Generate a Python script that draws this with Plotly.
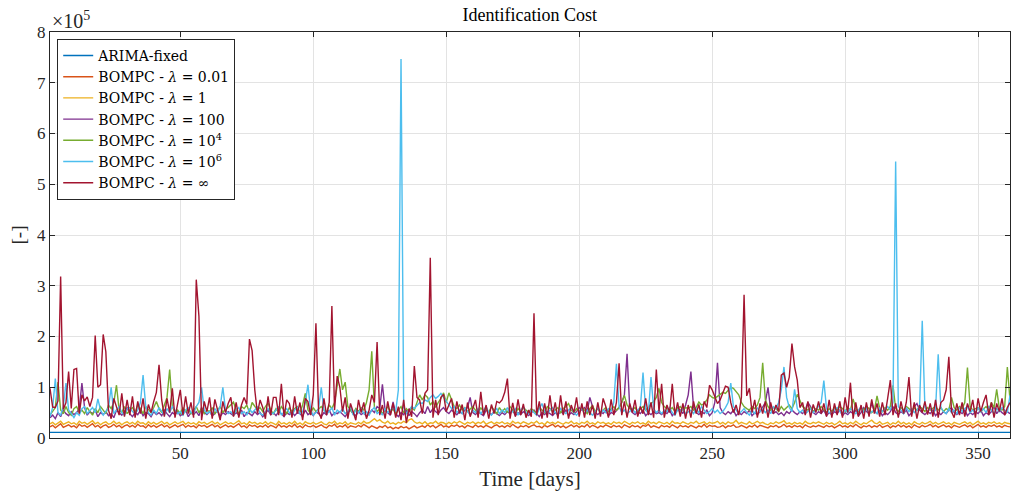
import plotly.graph_objects as go

# ---- data (values in thousands) ----
N_DAYS = 362

ARIMA_FIXED = [
    11, 11, 11, 11, 11, 11, 11, 11, 11, 11, 11, 11, 11, 11, 11, 11, 11, 11, 11, 11,
    11, 11, 11, 11, 11, 11, 11, 11, 11, 11, 11, 11, 11, 11, 11, 11, 11, 11, 11, 11,
    11, 11, 11, 11, 11, 11, 11, 11, 11, 11, 11, 11, 11, 11, 11, 11, 11, 11, 11, 11,
    11, 11, 11, 11, 11, 11, 11, 11, 11, 11, 11, 11, 11, 11, 11, 11, 11, 11, 11, 11,
    11, 11, 11, 11, 11, 11, 11, 11, 11, 11, 11, 11, 11, 11, 11, 11, 11, 11, 11, 11,
    11, 11, 11, 11, 11, 11, 11, 11, 11, 11, 11, 11, 11, 11, 11, 11, 11, 11, 11, 11,
    11, 11, 11, 11, 11, 11, 11, 11, 11, 11, 11, 11, 11, 11, 11, 11, 11, 11, 11, 11,
    11, 11, 11, 11, 11, 11, 11, 11, 11, 11, 11, 11, 11, 11, 11, 11, 11, 11, 11, 11,
    11, 11, 11, 11, 11, 11, 11, 11, 11, 11, 11, 11, 11, 11, 11, 11, 11, 11, 11, 11,
    11, 11, 11, 11, 11, 11, 11, 11, 11, 11, 11, 11, 11, 11, 11, 11, 11, 11, 11, 11,
    11, 11, 11, 11, 11, 11, 11, 11, 11, 11, 11, 11, 11, 11, 11, 11, 11, 11, 11, 11,
    11, 11, 11, 11, 11, 11, 11, 11, 11, 11, 11, 11, 11, 11, 11, 11, 11, 11, 11, 11,
    11, 11, 11, 11, 11, 11, 11, 11, 11, 11, 11, 11, 11, 11, 11, 11, 11, 11, 11, 11,
    11, 11, 11, 11, 11, 11, 11, 11, 11, 11, 11, 11, 11, 11, 11, 11, 11, 11, 11, 11,
    11, 11, 11, 11, 11, 11, 11, 11, 11, 11, 11, 11, 11, 11, 11, 11, 11, 11, 11, 11,
    11, 11, 11, 11, 11, 11, 11, 11, 11, 11, 11, 11, 11, 11, 11, 11, 11, 11, 11, 11,
    11, 11, 11, 11, 11, 11, 11, 11, 11, 11, 11, 11, 11, 11, 11, 11, 11, 11, 11, 11,
    11, 11, 11, 11, 11, 11, 11, 11, 11, 11, 11, 11, 11, 11, 11, 11, 11, 11, 11, 11,
    11, 11,
]

LAMBDA_0_01 = [
    22, 25, 20, 24, 28, 21, 23, 26, 22, 24,
    20, 27, 23, 25, 21, 24, 28, 22, 25, 20,
    24, 26, 21, 23, 27, 22, 25, 20, 24, 26,
    22, 25, 21, 27, 23, 24, 20, 26, 22, 25,
    21, 24, 27, 22, 25, 20, 23, 26, 22, 24,
    27, 21, 25, 22, 24, 20, 26, 23, 25, 21,
    24, 27, 22, 25, 20, 23, 26, 22, 24, 21,
    25, 28, 22, 24, 20, 26, 23, 25, 21, 24,
    22, 26, 21, 25, 23, 20, 27, 22, 24, 21,
    25, 22, 27, 21, 24, 20, 26, 23, 22, 25,
    21, 24, 26, 22, 20, 25, 23, 27, 21, 24,
    22, 26, 20, 24, 23, 21, 25, 22, 27, 23,
    20, 24, 22, 19, 23, 21, 25, 20, 22, 18,
    21, 19, 23, 20, 22, 18, 21, 24, 20, 22,
    24, 21, 26, 22, 25, 20, 23, 27, 22, 24,
    21, 25, 23, 26, 22, 24, 20, 25, 23, 21,
    26, 22, 24, 21, 25, 23, 20, 24, 26, 22,
    24, 21, 25, 22, 27, 23, 20, 24, 22, 25,
    21, 24, 26, 22, 23, 20, 25, 22, 24, 27,
    22, 25, 21, 24, 20, 23, 26, 22, 25, 21,
    24, 22, 27, 21, 25, 23, 20, 24, 22, 26,
    23, 21, 25, 22, 24, 20, 26, 23, 21, 25,
    22, 24, 20, 25, 23, 27, 21, 24, 22, 20,
    25, 22, 24, 21, 26, 23, 20, 25, 22, 24,
    21, 25, 23, 20, 24, 22, 27, 21, 25, 23,
    24, 21, 22, 25, 20, 24, 23, 26, 21, 22,
    25, 23, 20, 24, 22, 26, 21, 25, 23, 22,
    20, 24, 22, 25, 21, 23, 27, 22, 24, 21,
    25, 22, 24, 20, 26, 23, 21, 24, 22, 25,
    23, 21, 25, 22, 24, 20, 23, 26, 22, 24,
    21, 25, 22, 27, 23, 20, 24, 22, 25, 21,
    24, 22, 26, 21, 23, 25, 20, 24, 22, 26,
    22, 25, 21, 24, 20, 26, 23, 21, 25, 22,
    24, 27, 22, 25, 21, 23, 26, 22, 24, 20,
    25, 23, 21, 24, 26, 22, 25, 20, 23, 27,
    22, 24, 21, 25, 23, 26, 22, 24, 21, 25,
    23, 22,
]

LAMBDA_1 = [
    28, 31, 26, 30, 33, 27, 29, 32, 28, 30,
    26, 33, 29, 31, 27, 30, 34, 28, 31, 26,
    30, 32, 27, 29, 33, 28, 31, 26, 30, 32,
    28, 31, 27, 33, 29, 30, 26, 32, 28, 31,
    27, 30, 33, 28, 31, 26, 29, 32, 28, 30,
    33, 27, 31, 28, 30, 26, 32, 29, 31, 27,
    30, 33, 28, 31, 26, 29, 32, 28, 30, 27,
    31, 34, 28, 30, 26, 32, 29, 31, 27, 30,
    28, 32, 27, 31, 29, 26, 33, 28, 30, 27,
    31, 28, 33, 27, 30, 26, 32, 29, 28, 31,
    27, 30, 32, 28, 26, 31, 29, 33, 27, 30,
    28, 32, 26, 30, 29, 27, 31, 28, 33, 29,
    30, 35, 38, 33, 36, 31, 29, 33, 28, 30,
    27, 31, 29, 33, 30, 36, 38, 32, 29, 31,
    28, 32, 27, 30, 29, 33, 28, 31, 30, 27,
    31, 28, 32, 29, 33, 30, 27, 31, 29, 32,
    28, 31, 29, 33, 27, 30, 32, 28, 31, 29,
    32, 28, 30, 27, 33, 29, 31, 28, 32, 30,
    27, 31, 29, 33, 28, 30, 26, 32, 29, 31,
    28, 32, 30, 27, 31, 29, 33, 28, 30, 27,
    31, 29, 33, 28, 30, 27, 32, 29, 31, 28,
    30, 27, 32, 29, 31, 28, 33, 30, 27, 31,
    29, 32, 28, 30, 27, 33, 29, 31, 28, 32,
    30, 28, 31, 27, 33, 29, 30, 28, 32, 29,
    27, 31, 29, 33, 28, 30, 32, 27, 31, 29,
    30, 33, 28, 31, 27, 32, 29, 30, 35, 28,
    31, 29, 27, 32, 28, 30, 33, 29, 31, 28,
    26, 30, 28, 32, 29, 31, 34, 28, 30, 27,
    31, 28, 30, 27, 33, 29, 28, 31, 29, 32,
    29, 27, 31, 28, 30, 26, 29, 33, 28, 30,
    27, 31, 28, 33, 29, 26, 30, 28, 32, 35,
    30, 28, 32, 27, 29, 31, 26, 30, 28, 33,
    28, 31, 27, 30, 26, 32, 29, 27, 31, 28,
    30, 33, 28, 31, 27, 29, 32, 28, 30, 26,
    31, 29, 27, 30, 32, 28, 31, 26, 29, 33,
    28, 30, 27, 31, 29, 32, 28, 30, 27, 31,
    29, 28,
]

LAMBDA_100 = [
    40, 45, 38, 50, 42, 55, 48, 44, 52, 46,
    50, 58, 108, 60, 45, 52, 48, 55, 42, 50,
    46, 52, 44, 48, 40, 55, 50, 45, 52, 60,
    48, 42, 50, 46, 55, 44, 50, 48, 42, 52,
    46, 50, 44, 55, 48, 42, 50, 46, 52, 44,
    48, 55, 42, 50, 46, 52, 44, 60, 50, 46,
    52, 44, 48, 55, 42, 50, 46, 52, 48, 44,
    50, 46, 55, 42, 50, 48, 44, 52, 46, 50,
    42, 48, 55, 46, 50, 44, 52, 48, 42, 50,
    46, 52, 44, 50, 48, 42, 55, 46, 50, 44,
    52, 48, 42, 50, 46, 55, 44, 50, 48, 52,
    46, 42, 50, 55, 48, 44, 52, 46, 50, 42,
    48, 55, 50, 62, 58, 106, 55, 50, 45, 71,
    48, 42, 50, 46, 55, 44, 52, 48, 42, 50,
    55, 48, 62, 50, 58, 52, 48, 55, 60, 52,
    48, 55, 50, 46, 52, 48, 55, 60, 80, 50,
    46, 52, 48, 44, 55, 50, 46, 52, 48, 44,
    50, 46, 52, 48, 55, 44, 50, 46, 52, 48,
    44, 50, 55, 48, 42, 50, 46, 52, 48, 44,
    50, 46, 52, 48, 55, 44, 50, 46, 52, 60,
    55, 60, 52, 80, 62, 50, 46, 52, 48, 55,
    44, 50, 48, 55, 60, 70, 85, 166, 60, 50,
    46, 52, 48, 55, 44, 50, 46, 52, 48, 50,
    46, 52, 48, 55, 44, 50, 60, 55, 48, 65,
    85, 131, 60, 50, 46, 52, 48, 55, 44, 50,
    70, 148, 60, 50, 46, 52, 48, 55, 44, 50,
    46, 52, 48, 55, 44, 50, 46, 52, 60, 70,
    100, 55, 48, 52, 46, 50, 44, 52, 48, 55,
    50, 46, 52, 48, 55, 70, 62, 50, 46, 52,
    48, 55, 44, 50, 46, 52, 48, 55, 44, 50,
    46, 52, 48, 55, 44, 50, 60, 52, 48, 70,
    52, 48, 55, 44, 50, 46, 52, 62, 50, 46,
    52, 48, 55, 44, 50, 62, 68, 55, 50, 46,
    52, 48, 55, 44, 50, 46, 52, 48, 55, 60,
    50, 46, 52, 48, 55, 44, 50, 46, 52, 48,
    55, 44, 50, 46, 52, 62, 48, 55, 50, 46,
    52, 48,
]

LAMBDA_1E4 = [
    45, 52, 60, 110, 55, 48, 62, 50, 45, 58,
    62, 50, 55, 48, 60, 52, 45, 58, 50, 62,
    55, 48, 65, 58, 70, 104, 55, 50, 62, 48,
    55, 60, 50, 65, 58, 48, 62, 55, 50, 60,
    72, 58, 50, 65, 80, 135, 62, 50, 55, 48,
    60, 52, 58, 48, 55, 62, 50, 58, 48, 55,
    52, 60, 48, 55, 62, 50, 58, 60, 65, 71,
    55, 48, 62, 58, 65, 50, 70, 62, 55, 60,
    52, 62, 69, 55, 48, 58, 50, 62, 55, 48,
    60, 52, 58, 62, 50, 65, 88, 55, 48, 60,
    52, 58, 62, 55, 50, 65, 58, 70, 100, 136,
    95, 110, 62, 55, 48, 58, 52, 60, 55, 70,
    95, 171, 60, 52, 58, 48, 55, 62, 50, 58,
    48, 55, 62, 50, 58, 52, 60, 55, 70, 85,
    75, 85, 80, 65, 72, 60, 70, 78, 89, 70,
    89, 75, 62, 58, 65, 55, 60, 52, 58, 62,
    55, 48, 60, 52, 58, 50, 62, 55, 48, 60,
    52, 58, 50, 62, 55, 48, 58, 52, 60, 55,
    50, 58, 52, 48, 60, 55, 50, 62, 58, 52,
    55, 60, 50, 58, 62, 68, 55, 50, 58, 52,
    60, 55, 48, 58, 64, 52, 58, 50, 55, 60,
    52, 58, 62, 55, 60, 70, 84, 65, 58, 55,
    60, 52, 58, 62, 55, 60, 68, 72, 80, 98,
    70, 62, 58, 55, 60, 52, 58, 62, 55, 60,
    58, 62, 55, 60, 71, 65, 68, 75, 85, 80,
    78, 82, 85, 90, 88, 95, 100, 98, 92, 85,
    70, 62, 58, 55, 62, 58, 65, 80, 148, 75,
    62, 55, 60, 58, 52, 62, 55, 60, 65, 58,
    70, 86, 75, 62, 58, 55, 60, 52, 58, 55,
    62, 55, 50, 58, 52, 60, 55, 62, 58, 52,
    60, 55, 77, 58, 52, 60, 55, 62, 58, 50,
    55, 83, 58, 52, 60, 55, 62, 104, 58, 52,
    60, 55, 62, 58, 52, 60, 55, 62, 58, 52,
    60, 55, 58, 62, 55, 60, 52, 58, 55, 80,
    60, 55, 62, 58, 70, 139, 62, 55, 58, 60,
    52, 58, 62, 55, 70, 60, 96, 58, 55, 62,
    140, 75,
]

LAMBDA_1E6 = [
    42, 60, 117, 50, 45, 62, 108, 55, 48, 40,
    50, 45, 58, 62, 48, 55, 60, 50, 77, 55,
    45, 52, 60, 100, 48, 55, 62, 50, 45, 58,
    60, 52, 48, 55, 70, 124, 62, 50, 45, 55,
    48, 60, 52, 45, 58, 50, 62, 55, 48, 52,
    45, 55, 60, 50, 48, 62, 70, 100, 55, 48,
    52, 45, 58, 50, 62, 100, 55, 48, 52, 45,
    55, 60, 48, 52, 45, 58, 50, 55, 62, 48,
    45, 52, 58, 50, 48, 55, 62, 45, 52, 58,
    50, 45, 55, 60, 48, 52, 70, 105, 55, 45,
    50, 58, 100, 55, 48, 52, 60, 45, 55, 50,
    58, 48, 52, 62, 45, 55, 50, 58, 48, 52,
    45, 55, 60, 48, 52, 45, 58, 50, 55, 60,
    52, 95, 747, 60, 48, 55, 62, 58, 65, 70,
    68, 75, 72, 80, 85, 78, 82, 88, 80, 72,
    65, 58, 62, 50, 55, 48, 60, 52, 45, 55,
    50, 58, 48, 55, 62, 50, 45, 52, 58, 48,
    55, 50, 60, 48, 52, 58, 45, 55, 62, 50,
    48, 55, 50, 45, 58, 68, 52, 48, 55, 60,
    50, 45, 58, 52, 48, 55, 60, 50, 45, 52,
    58, 48, 55, 50, 45, 52, 60, 48, 55, 50,
    58, 52, 70, 146, 62, 50, 55, 48, 52, 58,
    50, 55, 60, 129, 55, 48, 120, 58, 50, 55,
    48, 55, 52, 60, 50, 45, 55, 52, 58, 48,
    52, 55, 48, 58, 50, 62, 55, 48, 52, 58,
    50, 55, 48, 52, 60, 70, 108, 62, 55, 48,
    52, 58, 50, 45, 55, 48, 60, 52, 58, 50,
    55, 48, 62, 58, 70, 95, 140, 80, 60, 52,
    96, 58, 50, 55, 48, 52, 58, 50, 55, 62,
    70, 113, 58, 50, 48, 55, 60, 52, 48, 55,
    50, 58, 52, 48, 55, 62, 50, 58, 48, 52,
    55, 48, 60, 52, 58, 62, 55, 70, 545, 62,
    55, 48, 60, 52, 58, 50, 55, 62, 231, 60,
    52, 58, 50, 55, 165, 60, 52, 48, 58, 50,
    55, 48, 60, 52, 58, 62, 50, 55, 48, 60,
    52, 58, 50, 62, 55, 48, 58, 52, 60, 55,
    50, 84,
]

LAMBDA_INF = [
    98, 61, 60, 73, 318, 56, 70, 131, 58, 135,
    137, 48, 85, 73, 81, 62, 80, 202, 100, 105,
    204, 170, 55, 38, 78, 62, 45, 88, 42, 75,
    45, 82, 40, 72, 48, 78, 38, 66, 50, 72,
    90, 144, 75, 42, 78, 50, 98, 40, 68, 95,
    45, 82, 48, 70, 40, 312, 240, 35, 72, 52,
    80, 38, 76, 55, 35, 72, 50, 68, 80, 42,
    70, 40, 65, 80, 66, 195, 172, 95, 48, 75,
    60, 38, 82, 45, 80, 80, 45, 107, 42, 75,
    68, 40, 82, 48, 70, 35, 78, 72, 45, 85,
    226, 52, 38, 78, 45, 70, 260, 55, 122, 100,
    52, 80, 38, 68, 52, 35, 75, 50, 70, 38,
    55, 85, 70, 189, 45, 65, 38, 72, 45, 68,
    40, 62, 35, 75, 30, 58, 42, 142, 80, 75,
    48, 88, 95, 355, 40, 75, 45, 80, 86, 52,
    65, 78, 40, 72, 48, 66, 35, 70, 42, 58,
    75, 40, 91, 45, 65, 38, 66, 48, 72, 69,
    75, 90, 117, 38, 69, 42, 76, 45, 67, 40,
    55, 42, 246, 45, 72, 38, 68, 40, 84, 45,
    70, 38, 84, 45, 72, 38, 65, 50, 80, 42,
    68, 40, 72, 45, 65, 38, 70, 42, 78, 62,
    40, 76, 45, 70, 147, 45, 72, 40, 68, 50,
    75, 42, 62, 48, 78, 45, 70, 40, 135, 52,
    107, 40, 65, 50, 107, 45, 70, 42, 68, 38,
    65, 40, 72, 48, 66, 40, 72, 60, 104, 95,
    80, 68, 75, 90, 102, 100, 70, 50, 65, 45,
    80, 282, 83, 98, 50, 75, 40, 68, 48, 72,
    40, 70, 48, 65, 52, 124, 128, 100, 120, 186,
    140, 114, 60, 70, 45, 72, 40, 66, 50, 72,
    48, 68, 42, 75, 40, 68, 45, 72, 40, 80,
    50, 109, 38, 70, 42, 65, 38, 70, 42, 76,
    48, 68, 42, 70, 45, 78, 114, 45, 68, 40,
    72, 48, 70, 120, 42, 70, 38, 65, 50, 72,
    46, 68, 42, 75, 40, 70, 75, 95, 160, 52,
    40, 68, 45, 70, 42, 68, 52, 75, 40, 78,
    52, 70, 85, 45, 70, 40, 68, 52, 78, 45,
    60, 70,
]

SERIES = [
    ("ARIMA-fixed", ARIMA_FIXED, "#0072BD"),
    ("BOMPC - <i>λ</i> = 0.01", LAMBDA_0_01, "#D95319"),
    ("BOMPC - <i>λ</i> = 1", LAMBDA_1, "#EDB120"),
    ("BOMPC - <i>λ</i> = 100", LAMBDA_100, "#7E2F8E"),
    ("BOMPC - <i>λ</i> = 10<sup>4</sup>", LAMBDA_1E4, "#77AC30"),
    ("BOMPC - <i>λ</i> = 10<sup>6</sup>", LAMBDA_1E6, "#4DBEEE"),
    ("BOMPC - <i>λ</i> = ∞", LAMBDA_INF, "#A2142F"),
]

Y_TICKS = [0, 1, 2, 3, 4, 5, 6, 7, 8]
X_TICKS = [50, 100, 150, 200, 250, 300, 350]

FONT = "Liberation Serif"
AX = "#262626"

fig = go.Figure()
for name, vals, color in SERIES:
    fig.add_trace(go.Scatter(
        x=list(range(1, len(vals) + 1)),
        y=[v * 1000 for v in vals],
        mode="lines", name=name,
        line=dict(color=color, width=1.4),
    ))

fig.update_layout(
    width=1011, height=491,
    margin=dict(l=50, r=1, t=32, b=53),
    paper_bgcolor="white", plot_bgcolor="white",
    font=dict(family=FONT, color=AX, size=17),
    title=dict(text="Identification Cost", x=0.524, xanchor="center",
               y=0.97, yanchor="middle", font=dict(size=18, color="black")),
    showlegend=True,
    legend=dict(x=0.0075, y=0.983, xanchor="left", yanchor="top",
                bgcolor="white", bordercolor=AX, borderwidth=1,
                font=dict(family="DejaVu Serif", size=14, color="black"),
                itemwidth=30, tracegroupgap=0),
)
fig.update_xaxes(
    range=[1, N_DAYS], tickvals=X_TICKS, ticks="inside", ticklen=5,
    tickcolor=AX, showline=True, linecolor=AX, linewidth=1, mirror="ticks",
    showgrid=True, gridcolor="#e3e3e3", gridwidth=1, zeroline=False,
    tickfont=dict(size=17, color=AX), automargin=False,
    title=dict(text="Time [days]", font=dict(size=21, color=AX), standoff=11),
)
fig.update_yaxes(
    range=[0, 8e5], tickvals=[t * 1e5 for t in Y_TICKS],
    ticktext=[str(t) for t in Y_TICKS], ticks="inside", ticklen=5,
    tickcolor=AX, showline=True, linecolor=AX, linewidth=1, mirror="ticks",
    showgrid=True, gridcolor="#e3e3e3", gridwidth=1, zeroline=False,
    tickfont=dict(size=17, color=AX), automargin=False,
    title=dict(text="[-]", font=dict(size=19, color=AX), standoff=6),
)
fig.add_annotation(
    text="×10<sup>5</sup>", xref="paper", yref="paper", x=0.0, y=1.0,
    xanchor="left", yanchor="bottom", showarrow=False, yshift=-2,
    font=dict(size=20, color=AX),
)

fig.write_html(
    "out.html",
    config={"displayModeBar": False},
    post_script="document.body.style.margin='0';document.body.style.overflow='hidden';",
)
